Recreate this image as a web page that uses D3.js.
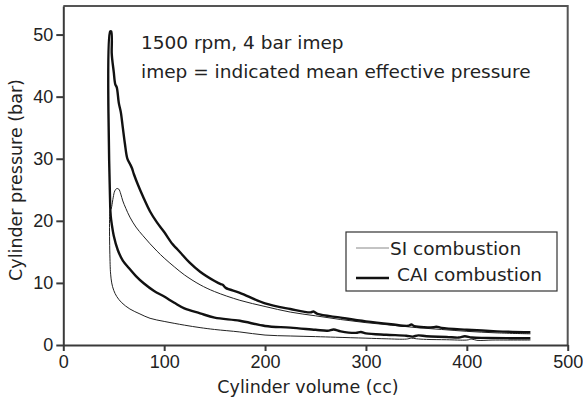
<!DOCTYPE html>
<html lang="en">
<head>
<meta charset="utf-8">
<title>Cylinder pressure vs cylinder volume</title>
<script src="https://cdnjs.cloudflare.com/ajax/libs/d3/7.8.5/d3.min.js"></script>
<style>
    body { margin: 0; background: #fff; }
    svg { display: block; font-family: "DejaVu Sans", sans-serif; }
    .axis path, .axis line { stroke: #3a3a3a; stroke-width: 2; }
    .axis text { font-size: 18px; fill: #222; }
    .curve { fill: none; stroke-linejoin: round; }
</style>
</head>
<body>
<svg width="583" height="403"></svg>
<script>
    // x ticks / y ticks
    const volumeTicks = [0, 100, 200, 300, 400, 500];
    const pressureTicks = [0, 10, 20, 30, 40, 50];

    // SI combustion: compression stroke (BDC -> TDC), then combustion + expansion
    const siCompVolume   = [463, 440, 425, 410, 405, 400, 380, 360, 350, 345, 340, 320, 300, 270, 250, 225, 200, 175, 150, 135.6, 120, 100, 86, 76, 66, 58, 53, 50, 48, 47, 46.5];
    const siCompPressure = [0.8, 0.8, 0.8, 0.75, 0.95, 0.8, 0.85, 0.9, 1.0, 1.1, 0.95, 1.0, 1.1, 1.25, 1.35, 1.45, 1.6, 2.1, 2.5, 2.8, 3.2, 3.8, 4.3, 5.0, 5.8, 6.8, 7.8, 8.8, 10, 11.3, 12.6];
    const siExpVolume    = [46.5, 47.3, 48, 49.5, 51, 53, 55, 57, 59, 62, 66, 72, 79, 86, 93, 100, 110, 120, 135.6, 150, 175, 200, 225, 250, 275, 300, 325, 350, 375, 400, 430, 463];
    const siExpPressure  = [21.7, 21.9, 22.3, 23.8, 24.8, 25.2, 25.1, 24.3, 23.2, 22, 20.6, 19.0, 17.6, 16.3, 15.1, 14.0, 12.6, 11.3, 9.7, 8.6, 7.2, 6.2, 5.3, 4.7, 4.1, 3.6, 3.2, 2.8, 2.5, 2.2, 1.95, 1.8];

    // CAI combustion
    const caiCompVolume   = [463, 440, 420, 405, 398, 392, 380, 360, 352, 346, 340, 320, 300, 295, 290, 275, 268, 262, 250, 225, 200, 175, 150, 135.6, 120, 110, 100, 90, 80, 72, 65, 59, 54, 50, 48, 47, 46.5];
    const caiCompPressure = [1.08, 1.1, 1.15, 1.2, 1.4, 1.2, 1.3, 1.4, 1.55, 1.35, 1.5, 1.65, 1.88, 2.1, 1.95, 2.2, 2.5, 2.3, 2.45, 2.8, 3.06, 3.9, 4.4, 5.1, 5.9, 6.8, 7.8, 8.7, 9.9, 11.1, 12.4, 13.6, 15.3, 17.6, 19.5, 20.8, 22.3];
    const caiExpVolume    = [46.5, 47.5, 48, 48.5, 50, 51.5, 53, 55, 57, 59, 61, 63.5, 66, 68, 70, 74, 79, 86, 93, 100, 108, 112, 116, 125, 135.6, 150, 156, 158, 161, 175, 200, 225, 245, 248, 252, 275, 300, 325, 342, 345, 348, 367, 370, 375, 400, 430, 463];
    const caiExpPressure  = [50.5, 50.5, 47, 46, 44, 42, 41.5, 39, 37.5, 35, 32.5, 30, 29.2, 28.5, 27.5, 25.8, 23.9, 21.5, 19.7, 18.2, 16.3, 15.6, 14.9, 13.3, 11.8, 10.3, 9.8, 9.7, 9.2, 8.4, 6.7, 5.8, 5.25, 5.4, 5.0, 4.4, 3.8, 3.35, 3.1, 3.3, 3.05, 2.85, 2.95, 2.75, 2.45, 2.2, 2.05];

    const legendNames = ["SI combustion", "CAI combustion"];

    const svg = d3.select("svg");

    const x = d3.scaleLinear().domain([0, 500]).range([63.3, 567.7]);
    const y = d3.scaleLinear().domain([0, 54.6]).range([345, 6]);

    const toPoints = (vs, ps) => vs.map((v, i) => [v, ps[i]]);
    const siPoints = toPoints(siCompVolume, siCompPressure).concat(toPoints(siExpVolume, siExpPressure));
    const caiPoints = toPoints(caiCompVolume, caiCompPressure).concat(toPoints(caiExpVolume, caiExpPressure));

    const line = d3.line()
        .x(d => x(d[0]))
        .y(d => y(d[1]))
        .curve(d3.curveCatmullRom.alpha(0.5));

    // frame (top and right)
    svg.append("path")
        .attr("d", `M${x(0)},${y(54.6)}H${x(500)}V${y(0)}`)
        .attr("fill", "none")
        .attr("stroke", "#555")
        .attr("stroke-width", 2);

    svg.append("g")
        .attr("class", "axis")
        .attr("transform", `translate(0,${y(0)})`)
        .call(d3.axisBottom(x).tickValues(volumeTicks).tickSize(6).tickSizeOuter(0).tickPadding(4));

    svg.append("g")
        .attr("class", "axis")
        .attr("transform", `translate(${x(0)},0)`)
        .call(d3.axisLeft(y).tickValues(pressureTicks).tickSize(7).tickSizeOuter(0).tickPadding(3));

    svg.append("path")
        .datum(siPoints)
        .attr("class", "curve")
        .attr("d", line)
        .attr("stroke", "#222")
        .attr("stroke-width", 1);

    svg.append("path")
        .datum(caiPoints)
        .attr("class", "curve")
        .attr("d", line)
        .attr("stroke", "#111")
        .attr("stroke-width", 2.4);

    // axis titles
    svg.append("text")
        .attr("x", 308)
        .attr("y", 393)
        .attr("text-anchor", "middle")
        .style("font-size", "17.5px")
        .style("fill", "#222")
        .text("Cylinder volume (cc)");

    svg.append("text")
        .attr("transform", `translate(22,180) rotate(-90)`)
        .attr("text-anchor", "middle")
        .style("font-size", "17.5px")
        .style("fill", "#222")
        .text("Cylinder pressure (bar)");

    // annotation
    svg.append("text")
        .attr("x", 141)
        .attr("y", 49)
        .style("font-size", "18.5px")
        .style("fill", "#222")
        .text("1500 rpm, 4 bar imep");
    svg.append("text")
        .attr("x", 141)
        .attr("y", 78)
        .style("font-size", "18.5px")
        .style("fill", "#222")
        .text("imep = indicated mean effective pressure");

    // legend
    const legend = svg.append("g").attr("transform", "translate(346,232)");
    legend.append("rect")
        .attr("width", 211)
        .attr("height", 59)
        .attr("fill", "#fff")
        .attr("stroke", "#333")
        .attr("stroke-width", 1.2);
    legendNames.forEach((name, i) => {
        const ly = 16 + i * 26;
        legend.append("line")
            .attr("x1", 10).attr("x2", 43)
            .attr("y1", ly + (i ? 4 : 0)).attr("y2", ly + (i ? 4 : 0))
            .attr("stroke", i ? "#111" : "#888")
            .attr("stroke-width", i ? 2.4 : 1);
        legend.append("text")
            .attr("x", i ? 51 : 44)
            .attr("y", ly + 7)
            .style("font-size", "18.5px")
            .style("fill", "#222")
            .text(name);
    });
</script>
</body>
</html>
